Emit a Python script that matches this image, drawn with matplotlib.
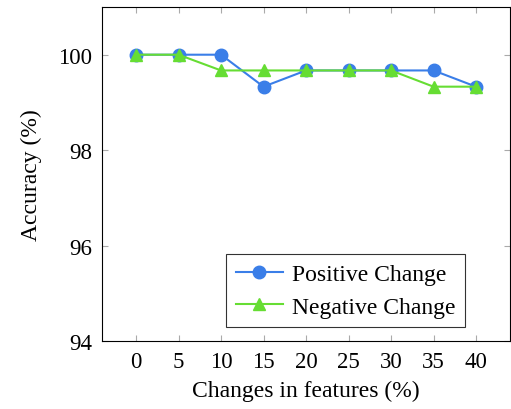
import matplotlib
matplotlib.use("Agg")
import matplotlib.pyplot as plt

changes = [0, 5, 10, 15, 20, 25, 30, 35, 40]
positive = [100, 100, 100, 99.33, 99.67, 99.67, 99.67, 99.67, 99.33]
negative = [100, 100, 99.67, 99.67, 99.67, 99.67, 99.67, 99.33, 99.33]
yticks = [94, 96, 98, 100]

plt.rcParams['font.family'] = ['Liberation Serif', 'DejaVu Serif']

fig = plt.figure(figsize=(5.11, 4.10), dpi=100)
ax = fig.add_axes([0.1996, 0.1659, 0.7985, 0.8146])

ax.plot(changes, positive, color='#3a7ee8', marker='o', markersize=9,
        linewidth=1.5, label='Positive Change', zorder=3)
ax.plot(changes, negative, color='#66dd33', marker='^', markersize=9,
        linewidth=1.5, label='Negative Change', zorder=4)

ax.set_xlim(-4, 44)
ax.set_ylim(94, 101)
ax.set_xticks(changes)
ax.set_yticks(yticks)
ax.tick_params(direction='in', top=True, right=True, length=4.5, width=0.8,
               color='#aaaaaa', labelsize=16.5, pad=7)
for s in ax.spines.values():
    s.set_linewidth(0.8)
ax.set_xlabel('Changes in features (%)', fontsize=17, labelpad=6)
ax.set_ylabel('Accuracy (%)', fontsize=17, labelpad=12)

leg = ax.legend(loc='lower right', bbox_to_anchor=(0.89, 0.042), fontsize=17,
                frameon=True, fancybox=False, edgecolor='black',
                handlelength=2.0, handletextpad=0.4, borderpad=0.4,
                labelspacing=0.45, borderaxespad=0)
leg.get_frame().set_linewidth(0.8)

fig.savefig('out.png', dpi=100)
